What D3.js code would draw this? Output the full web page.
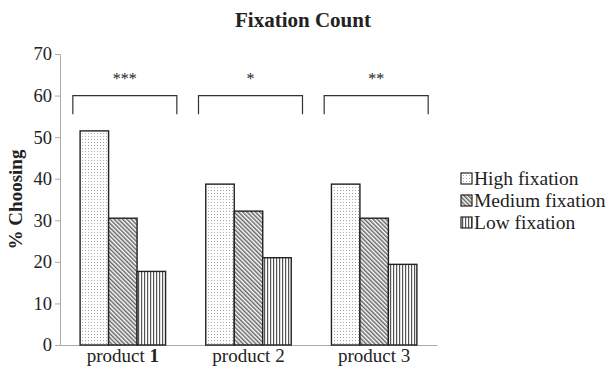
<!DOCTYPE html>
<html>
<head>
  <script src="https://d3js.org/d3.v7.min.js"></script>
  <style>
    body { margin: 0; background: #fff; }
    text { font-family: "Liberation Serif", "Times New Roman", serif; fill: #222; }
  </style>
</head>
<body>
  <svg width="612" height="372"></svg>
  <script>
    const products = ["product 1", "product 2", "product 3"];
    const seriesNames = ["High fixation", "Medium fixation", "Low fixation"];
    const high = [51.5, 38.7, 38.7];
    const medium = [30.5, 32.2, 30.5];
    const low = [17.7, 21.0, 19.4];
    const stars = ["***", "*", "**"];
    const yTicks = [0, 10, 20, 30, 40, 50, 60, 70];

    const values = [high, medium, low];
    const patterns = ["pDots", "pDiag", "pVert"];

    const svg = d3.select("svg");
    const margin = { left: 60, right: 175, top: 54, bottom: 27 };
    const width = 612, height = 372;

    const x = d3.scaleBand().domain(products)
      .range([margin.left, width - margin.right])
      .paddingInner(0.32).paddingOuter(0.16);
    const xs = d3.scaleBand().domain(seriesNames).range([0, x.bandwidth()]);
    const y = d3.scaleLinear().domain([0, 70]).range([height - margin.bottom, margin.top]);

    // patterns
    const defs = svg.append("defs");
    const pd = defs.append("pattern").attr("id", "pDots")
      .attr("patternUnits", "userSpaceOnUse").attr("width", 3).attr("height", 3);
    pd.append("rect").attr("width", 3).attr("height", 3).attr("fill", "#fff");
    pd.append("rect").attr("x", 1).attr("y", 1).attr("width", 1).attr("height", 1).attr("fill", "#aaa");

    const pg = defs.append("pattern").attr("id", "pDiag")
      .attr("patternUnits", "userSpaceOnUse").attr("width", 3).attr("height", 3)
      .attr("patternTransform", "rotate(-45)");
    pg.append("rect").attr("width", 3).attr("height", 3).attr("fill", "#fff");
    pg.append("rect").attr("width", 1.5).attr("height", 3).attr("fill", "#666");

    const pv = defs.append("pattern").attr("id", "pVert")
      .attr("patternUnits", "userSpaceOnUse").attr("width", 3).attr("height", 3);
    pv.append("rect").attr("width", 3).attr("height", 3).attr("fill", "#fff");
    pv.append("rect").attr("width", 1.2).attr("height", 3).attr("fill", "#555");

    // title
    svg.append("text").attr("x", 303).attr("y", 27)
      .attr("text-anchor", "middle").attr("font-weight", "bold")
      .style("font-size", "21px").text("Fixation Count");

    // y axis
    const yAxis = svg.append("g")
      .attr("transform", `translate(${margin.left},0)`)
      .call(d3.axisLeft(y).tickValues(yTicks).tickSize(5).tickPadding(3));
    yAxis.selectAll("path, line").attr("stroke", "#aaa");
    yAxis.selectAll("text").style("font-size", "18.5px").attr("fill", "#222");

    // x axis
    const xAxis = svg.append("g")
      .attr("transform", `translate(0,${y(0)})`)
      .call(d3.axisBottom(x).tickSize(0).tickPadding(4));
    xAxis.select("path").attr("stroke", "#aaa");
    xAxis.selectAll("text").style("font-size", "19px").attr("fill", "#222")
      .each(function (d, i) {
        if (i !== 0) return;
        const t = d3.select(this).text("");
        t.append("tspan").text("product ");
        t.append("tspan").attr("font-weight", "bold").text("1");
      });

    svg.append("text")
      .attr("transform", `translate(22,${(y(0) + y(70)) / 2}) rotate(-90)`)
      .attr("text-anchor", "middle").attr("font-weight", "bold")
      .style("font-size", "19px").text("% Choosing");

    // bars
    seriesNames.forEach((s, si) => {
      svg.append("g").selectAll("rect")
        .data(products)
        .join("rect")
        .attr("x", (d, i) => x(d) + xs(s))
        .attr("y", (d, i) => y(values[si][i]))
        .attr("width", xs.bandwidth())
        .attr("height", (d, i) => y(0) - y(values[si][i]))
        .attr("fill", `url(#${patterns[si]})`)
        .attr("stroke", "#222").attr("stroke-width", 1.4);
    });

    // significance brackets
    const br = svg.append("g");
    products.forEach((p, i) => {
      const cx = x(p) + x.bandwidth() / 2 + 2;
      const half = 52;
      br.append("path")
        .attr("d", `M${cx - half},${y(55.5)}V${y(60)}H${cx + half}V${y(55.5)}`)
        .attr("fill", "none").attr("stroke", "#333").attr("stroke-width", 1.2);
      br.append("text").attr("x", cx).attr("y", y(64.8) + 8)
        .attr("text-anchor", "middle").style("font-size", "16px").text(stars[i]);
    });

    // legend
    const lg = svg.append("g");
    seriesNames.forEach((s, i) => {
      const ly = 179 + i * 22;
      lg.append("rect").attr("x", 461).attr("y", ly - 6).attr("width", 11).attr("height", 11)
        .attr("fill", `url(#${patterns[i]})`).attr("stroke", "#222").attr("stroke-width", 1.2);
      lg.append("text").attr("x", 474).attr("y", ly + 6)
        .style("font-size", "19.5px").text(s);
    });
  </script>
</body>
</html>
